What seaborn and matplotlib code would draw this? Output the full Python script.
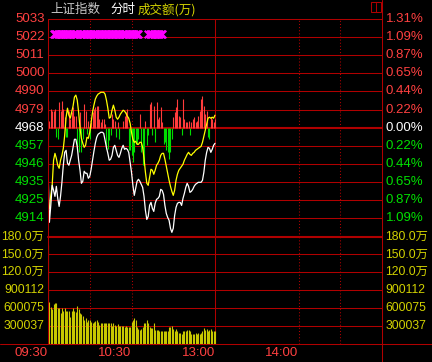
import matplotlib
matplotlib.use("Agg")
import matplotlib.pyplot as plt
import seaborn as sns
import pandas as pd
from matplotlib import font_manager, transforms
from matplotlib.lines import Line2D
from matplotlib.patches import Rectangle

# ---------------- data ----------------
base_price = 4968.3      # previous close
price_step = 10.83       # grid step in index points

price_labels = ["5033", "5022", "5011", "5000", "4990", "4979", "4968",
                "4957", "4946", "4935", "4925", "4914"]
pct_labels = ["1.31%", "1.09%", "0.87%", "0.65%", "0.44%", "0.22%", "0.00%",
              "0.22%", "0.44%", "0.65%", "0.87%", "1.09%"]
vol_levels = [180, 150, 120, 90, 60, 30]          # 万
vol_labels = ["180.0万", "150.0万", "120.0万", "900112", "600075", "300037"]
time_ticks = [0, 60, 120, 180]                    # minutes after 09:30 (trading time)
time_labels = ["09:30", "10:30", "13:00", "14:00"]

# index (white line), per minute 09:30 .. 11:30
index_price = [
    4944.1, 4911.8, 4921.9, 4933.9, 4930.9, 4927.3, 4933.3, 4926.1, 4921.3, 4927.3,
    4935.7, 4945.9, 4953.6, 4954.8, 4947.1, 4945.9, 4948.9, 4951.8, 4956.6, 4961.4,
    4961.4, 4957.2, 4948.9, 4942.9, 4935.1, 4936.3, 4942.3, 4941.1, 4941.1, 4938.1,
    4939.3, 4943.5, 4948.9, 4954.2, 4959.0, 4962.6, 4964.4, 4965.0, 4965.6, 4965.6,
    4965.0, 4960.8, 4956.6, 4953.0, 4948.9, 4949.5, 4951.8, 4956.6, 4957.8, 4954.8,
    4951.8, 4950.6, 4953.0, 4956.0, 4957.8, 4955.4, 4956.0, 4955.4, 4953.6, 4947.7,
    4941.7, 4933.9, 4927.9, 4932.1, 4936.3, 4937.5, 4936.3, 4934.5, 4932.7, 4927.3,
    4918.9, 4913.5, 4915.3, 4921.9, 4923.7, 4920.1, 4918.3, 4923.1, 4925.5, 4926.1,
    4927.3, 4931.5, 4930.9, 4928.5, 4921.9, 4917.1, 4914.7, 4913.0, 4908.2, 4905.8,
    4908.2, 4915.9, 4920.7, 4923.1, 4923.7, 4923.7, 4921.9, 4926.1, 4929.1, 4932.7,
    4935.1, 4933.3, 4929.7, 4930.3, 4931.5, 4933.3, 4934.5, 4935.1, 4935.7, 4935.7,
    4935.7, 4936.9, 4941.7, 4948.9, 4953.6, 4956.6, 4956.0, 4953.6, 4955.4, 4957.8,
    4959.0]

# leading index (yellow line)
lead_price = [
    4921.9, 4920.1, 4927.9, 4933.9, 4948.9, 4953.0, 4950.0, 4945.9, 4944.1, 4948.9,
    4951.8, 4956.0, 4963.8, 4974.6, 4980.0, 4975.8, 4974.0, 4977.6, 4981.2, 4986.6,
    4987.8, 4984.8, 4977.6, 4968.0, 4962.0, 4959.0, 4956.6, 4957.8, 4962.6, 4962.0,
    4965.6, 4971.6, 4977.6, 4981.8, 4985.4, 4987.2, 4988.4, 4988.9, 4989.5, 4989.5,
    4989.5, 4988.4, 4984.8, 4980.0, 4974.0, 4974.6, 4978.8, 4981.8, 4978.8, 4974.6,
    4973.4, 4974.6, 4976.4, 4977.6, 4978.8, 4978.2, 4977.0, 4975.2, 4974.0, 4971.0,
    4965.6, 4961.4, 4959.6, 4960.2, 4958.4, 4958.4, 4959.6, 4959.6, 4956.6, 4950.0,
    4941.7, 4935.1, 4933.9, 4938.7, 4943.5, 4942.9, 4940.5, 4942.9, 4945.9, 4947.1,
    4948.9, 4951.8, 4953.0, 4953.0, 4949.5, 4945.3, 4941.1, 4936.9, 4933.3, 4930.3,
    4927.9, 4930.9, 4936.9, 4940.5, 4942.9, 4944.1, 4945.3, 4946.5, 4948.9, 4950.6,
    4952.4, 4953.6, 4952.4, 4951.8, 4953.0, 4953.6, 4954.8, 4955.4, 4956.0, 4956.6,
    4957.2, 4959.6, 4963.2, 4966.8, 4970.4, 4974.0, 4974.6, 4974.0, 4974.6, 4974.0,
    4975.8]

# buy/sell strength bars (red up / green down), in index points around previous close
strength = [
    -14.4, 4.2, 11.4, 10.2, 10.2, 11.4, -5.4, -6.6, 15.6, 10.2,
    16.2, 11.4, 6.6, -5.4, -5.4, 10.2, 5.4, 9.6, 12.6, 7.2,
    7.2, -12.0, -14.4, 9.6, -14.4, -6.6, 14.4, 10.2, -3.6, 4.2,
    -6.6, 3.6, 9.6, 11.4, 12.6, 13.2, 13.2, 5.4, 3.6, 5.4,
    5.4, 2.4, -12.6, -12.6, -7.2, -4.2, 8.4, 5.4, 4.2, -5.4,
    3.6, -6.6, 0.0, 0.0, 4.2, 7.2, 9.6, 11.4, -13.2, -13.2,
    -16.2, -20.4, -14.4, -8.4, -9.6, -6.6, 8.4, -14.4, -22.2, -20.4,
    4.2, -10.2, -4.2, 14.4, 15.6, -4.2, 13.2, -8.4, 15.6, 5.4,
    6.6, 12.6, 3.6, -9.6, -8.4, -13.2, -14.4, -18.6, -14.4, -6.6,
    6.6, 9.6, 12.6, 17.4, 7.2, 6.6, -4.2, 17.4, 5.4, 3.6,
    3.6, 4.2, -4.2, 3.6, 5.4, 6.6, 3.6, 4.2, 7.2, 10.2,
    17.4, 19.2, 13.2, 8.4, 10.2, -5.4, -6.6, 6.6, 5.4, 3.6,
    5.4]

# turnover per minute (万)
volume = [
    166, 71, 62, 59, 67, 69, 69, 61, 60, 52,
    60, 56, 61, 56, 56, 56, 46, 56, 60, 56,
    53, 64, 58, 52, 50, 47, 41, 43, 37, 41,
    41, 37, 36, 37, 38, 41, 37, 32, 36, 35,
    36, 35, 36, 36, 35, 35, 30, 36, 32, 30,
    34, 30, 30, 30, 30, 28, 30, 28, 28, 29,
    37, 41, 43, 41, 29, 25, 23, 25, 29, 35,
    35, 40, 35, 29, 27, 27, 35, 23, 23, 23,
    22, 22, 22, 22, 22, 21, 22, 28, 29, 30,
    25, 22, 25, 21, 19, 18, 16, 21, 21, 21,
    23, 23, 21, 16, 16, 16, 19, 16, 19, 16,
    19, 21, 26, 23, 25, 22, 23, 25, 21, 21,
    22]

# magenta signal marks (minutes) drawn at a fixed level
signal_minutes = [4, 5, 6, 7, 8, 9, 10, 11, 12, 13, 14, 15, 16, 18, 19, 20, 21,
                  23, 24, 25, 26, 27, 28, 29, 30, 31, 32, 33, 34, 35, 37, 38, 39,
                  40, 41, 42, 43, 44, 45, 46, 47, 48, 49, 50, 51, 52, 53, 54, 55,
                  56, 58, 59, 60, 61, 62, 63, 64, 65, 72, 73, 74, 75, 76, 77, 78,
                  79, 80, 81, 82]
signal_level = 5024.6

minutes = list(range(len(index_price)))
df = pd.DataFrame({"minute": minutes, "index": index_price, "lead": lead_price,
                   "strength": strength, "volume": volume})
sig = pd.DataFrame({"minute": signal_minutes,
                    "level": [signal_level] * len(signal_minutes)})

# ---------------- style ----------------
sns.set_theme(style="dark")
avail = {f.name for f in font_manager.fontManager.ttflist}
narrow = "Liberation Sans Narrow" in avail
latin = "Liberation Sans Narrow" if narrow else "Liberation Sans"
plt.rcParams["font.family"] = [latin, "Noto Sans CJK SC", "DejaVu Sans"]
plt.rcParams["axes.unicode_minus"] = False

GRID = "#B00000"
RED = "#FF4040"
GREEN = "#00E000"
BAR_RED = "#FF3C3C"
BAR_GREEN = "#00DD00"
VOLC = "#C8C800"
YEL_TXT = "#D2D200"
FS = 10.5 if narrow else 9.5
FS_VOL = 9.5 if narrow else 8.8

W, H = 432, 362
fig = plt.figure(figsize=(W / 100, H / 100), dpi=100, facecolor="black")


def X(px):
    return px / W


def Y(py):
    return 1 - py / H


LEFT, RIGHT, TOP, MID, BOT = 48, 382, 19, 236.5, 344
ax = fig.add_axes([X(LEFT), Y(MID), X(RIGHT) - X(LEFT), Y(TOP) - Y(MID)])
axv = fig.add_axes([X(LEFT), Y(BOT), X(RIGHT) - X(LEFT), Y(MID) - Y(BOT)])

for a in (ax, axv):
    a.set_facecolor("black")
    for s in a.spines.values():
        s.set_visible(False)

# price grid
for k in range(-5, 6):
    lvl = base_price + k * price_step
    ax.axhline(lvl, color=GRID, lw=1.5 if k == 0 else 0.75, zorder=1)
for v in vol_levels[1:]:
    axv.axhline(v, color=GRID, lw=0.75, zorder=1)
for a in (ax, axv):
    for m in (30, 60, 180, 210):
        a.axvline(m, color=GRID, lw=0.75, ls=(0, (1, 2)), zorder=1)
    a.axvline(120, color=GRID, lw=0.75, zorder=1)

# strength bars
up = df[df["strength"] > 0]
dn = df[df["strength"] < 0]
ax.vlines(up["minute"], base_price, base_price + up["strength"], color=BAR_RED, lw=0.8, zorder=2)
ax.vlines(dn["minute"], base_price, base_price + dn["strength"], color=BAR_GREEN, lw=0.8, zorder=2)

# lines
sns.lineplot(data=df, x="minute", y="lead", color="#FFFF00", lw=0.9, ax=ax, zorder=3)
sns.lineplot(data=df, x="minute", y="index", color="white", lw=0.9, ax=ax, zorder=4)
sns.scatterplot(data=sig, x="minute", y="level", marker="x", s=30, color="#FF00FF",
                linewidth=1.5, ax=ax, zorder=5)

# volume
axv.vlines(df["minute"], 0, df["volume"], color=VOLC, lw=0.8, zorder=2)

for a in (ax, axv):
    a.set_xlim(0, 240)
    a.set_xlabel("")
    a.set_ylabel("")
    a.set_xticks([])
    a.set_yticks([])
    a.grid(False)
ax.set_ylim(base_price - 6 * price_step, base_price + 6 * price_step)
axv.set_ylim(0, 180)

# frame lines
frame = [
    ([X(LEFT), X(LEFT)], [Y(TOP), Y(BOT)], 0.75),
    ([X(RIGHT), X(RIGHT)], [Y(0), Y(H)], 0.75),
    ([0, 1], [Y(BOT), Y(BOT)], 0.75),
    ([X(LEFT), X(RIGHT)], [Y(TOP), Y(TOP)], 0.75),
    ([X(LEFT), X(RIGHT)], [Y(MID), Y(MID)], 1.5),
]
for xs, ys, lw in frame:
    fig.add_artist(Line2D(xs, ys, color=GRID, lw=lw, transform=fig.transFigure))

# price labels
tp = transforms.blended_transform_factory(fig.transFigure, ax.transData)
for k, (pl, cl) in enumerate(zip(price_labels, pct_labels)):
    lvl = base_price + (6 - k) * price_step
    col = RED if k < 6 else ("white" if k == 6 else GREEN)
    fig.text(X(44.5), lvl, pl, transform=tp, ha="right", va="center", color=col, fontsize=FS)
    fig.text(X(385.5), lvl, cl, transform=tp, ha="left", va="center", color=col, fontsize=FS)

tv = transforms.blended_transform_factory(fig.transFigure, axv.transData)
for v, lab in zip(vol_levels, vol_labels):
    fig.text(X(44.5), v, lab, transform=tv, ha="right", va="center", color=YEL_TXT, fontsize=FS_VOL)
    fig.text(X(385.5), v, lab, transform=tv, ha="left", va="center", color=YEL_TXT, fontsize=FS_VOL)

tt = transforms.blended_transform_factory(axv.transData, fig.transFigure)
for m, lab in zip(time_ticks, time_labels):
    fig.text(m, Y(353.5), lab, transform=tt, ha="right", va="center", color=RED, fontsize=FS)

# title
cjk = ["Noto Sans CJK SC", "DejaVu Sans"]
fig.text(X(50), Y(9.5), "上证指数", color="#C8C8C8", fontsize=9, va="center", family=cjk)
fig.text(X(110), Y(9.5), "分时", color="white", fontsize=9, va="center", family=cjk)
fig.text(X(138), Y(9.5), "成交额(万)", color=YEL_TXT, fontsize=9, va="center", family=cjk)

# small window icon top-right
fig.add_artist(Rectangle((X(370.5), Y(11.5)), X(380.5) - X(370.5), Y(2.5) - Y(11.5),
                         transform=fig.transFigure, fill=False, ec=GRID, lw=0.75))
fig.add_artist(Line2D([X(375.5), X(375.5)], [Y(2.5), Y(11.5)], color=GRID, lw=0.75,
                      transform=fig.transFigure))

fig.savefig("out.png", dpi=100, facecolor="black")
